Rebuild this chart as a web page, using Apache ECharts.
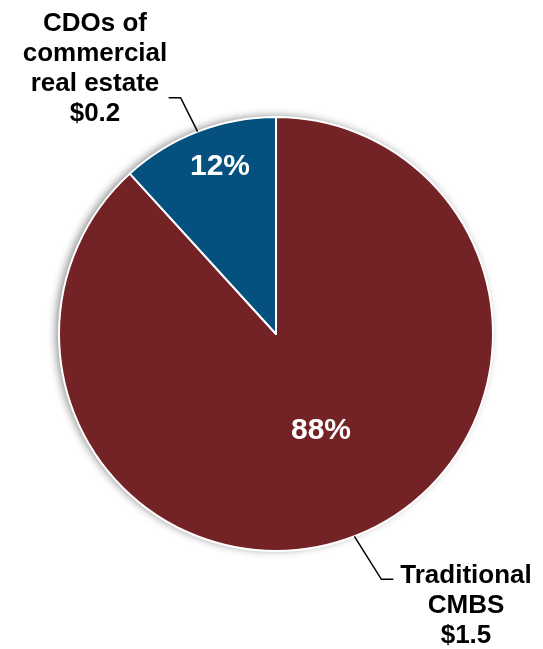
<!DOCTYPE html>
<html>
<head>
<meta charset="utf-8">
<script src="https://cdn.jsdelivr.net/npm/echarts@6/dist/echarts.min.js"></script>
<style>
html,body{margin:0;padding:0;background:#fff;}
#chart{width:543px;height:649px;}
</style>
</head>
<body>
<div id="chart"></div>
<script>
var categories = ['Traditional\nCMBS', 'CDOs of\ncommercial\nreal estate'];
var values = [1.5, 0.2];
var shares = [88, 12];
var colors = ['#732325', '#04507F'];

var pieData = categories.map(function (c, i) {
  return { name: c, value: values[i], share: shares[i], itemStyle: { color: colors[i] } };
});

var CENTER = [276, 334];
var RADIUS = 217;
var FONT = 'Arial, "Liberation Sans", Helvetica, sans-serif';

// label anchor positions (text blocks)
var pctPos = [[321, 431], [220, 167]];
var namePos = [[466, 606], [95, 69]];
// leader line bend offsets relative to the slice edge point
var bendOff = [[27, 43], [-17, -34]];
var tailLen = [12, -12];

var chart = echarts.init(document.getElementById('chart'));
chart.setOption({
  animation: false,
  series: [
    {
      type: 'pie', silent: true, z: 1,
      center: CENTER, radius: RADIUS, startAngle: 90, clockwise: true,
      data: pieData.map(function (d) { return { name: d.name, value: d.value }; }),
      itemStyle: { color: '#ffffff', shadowBlur: 8, shadowOffsetX: -3, shadowOffsetY: -1, shadowColor: 'rgba(0,0,0,0.45)' },
      label: { show: false }, labelLine: { show: false }
    },
    {
      type: 'pie', silent: true, z: 2,
      center: CENTER, radius: RADIUS, startAngle: 90, clockwise: true,
      avoidLabelOverlap: false,
      data: pieData,
      itemStyle: { borderColor: '#ffffff', borderWidth: 2 },
      label: {
        show: true, position: 'inside',
        formatter: function (p) { return p.data.share + '%'; },
        color: '#ffffff', fontFamily: FONT, fontWeight: 'bold', fontSize: 30
      },
      labelLine: { show: false },
      labelLayout: function (p) {
        return { x: pctPos[p.dataIndex][0], y: pctPos[p.dataIndex][1], align: 'center', verticalAlign: 'middle' };
      }
    },
    {
      type: 'pie', silent: true, z: 3,
      center: CENTER, radius: RADIUS, startAngle: 90, clockwise: true,
      avoidLabelOverlap: false,
      data: pieData.map(function (d) { return { name: d.name, value: d.value }; }),
      itemStyle: { color: 'rgba(0,0,0,0)' },
      label: {
        show: true, position: 'outside',
        formatter: function (p) { return p.name + '\n$' + p.value.toFixed(1); },
        color: '#000000', fontFamily: FONT, fontWeight: 'bold', fontSize: 26, lineHeight: 30,
        align: 'center'
      },
      labelLine: { show: true, length: 37, length2: 12, smooth: false, lineStyle: { color: '#000000', width: 1.5 } },
      labelLayout: function (p) {
        var i = p.dataIndex;
        var o = { x: namePos[i][0], y: namePos[i][1], align: 'center', verticalAlign: 'middle' };
        if (p.labelLinePoints) {
          var e = p.labelLinePoints[0];
          var b = [e[0] + bendOff[i][0], e[1] + bendOff[i][1]];
          o.labelLinePoints = [[e[0], e[1]], b, [b[0] + tailLen[i], b[1]]];
        }
        return o;
      }
    }
  ]
});
</script>
</body>
</html>
